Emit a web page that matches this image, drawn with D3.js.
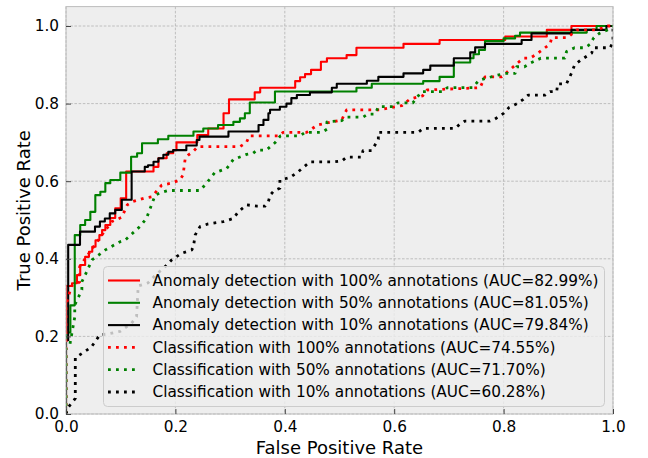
<!DOCTYPE html>
<html>
<head>
<meta charset="utf-8">
<script src="https://cdn.jsdelivr.net/npm/d3@7"></script>
<style>
body { margin: 0; background: #fff; }
text { font-family: "DejaVu Sans", sans-serif; fill: #000; }
</style>
</head>
<body>
<script>
//ROC curves, anomaly detection vs classification

//solid curves: [fpr, tpr] at the top of each rise (drawn as steps)
var anomaly100 = [[0,0],[0,0.33],[0.011,0.337],[0.020,0.358],[0.026,0.384],[0.035,0.405],[0.042,0.418],
    [0.048,0.431],[0.054,0.448],[0.061,0.461],[0.066,0.474],[0.072,0.487],[0.081,0.505],[0.090,0.530],
    [0.100,0.556],[0.110,0.625],[0.160,0.637],[0.169,0.659],[0.184,0.672],[0.196,0.680],[0.202,0.700],
    [0.240,0.719],[0.260,0.736],[0.288,0.775],[0.298,0.811],[0.345,0.829],[0.355,0.841],[0.419,0.858],
    [0.428,0.868],[0.437,0.876],[0.448,0.887],[0.466,0.908],[0.477,0.917],[0.513,0.925],[0.531,0.944],
    [0.617,0.954],[0.683,0.964],[0.803,0.973],[0.879,0.990],[0.924,1.0],[1.0,1.0]];

var anomaly50 = [[0,0],[0,0.21],[0.008,0.28],[0.016,0.461],[0.026,0.487],[0.035,0.500],[0.0445,0.521],
    [0.0536,0.564],[0.0628,0.573],[0.0719,0.595],[0.081,0.603],[0.0993,0.622],[0.119,0.663],[0.130,0.672],
    [0.139,0.698],[0.168,0.708],[0.187,0.717],[0.233,0.728],[0.251,0.736],[0.278,0.745],[0.306,0.753],
    [0.318,0.762],[0.327,0.775],[0.336,0.803],[0.382,0.831],[0.531,0.841],[0.559,0.851],[0.653,0.858],
    [0.683,0.869],[0.709,0.906],[0.739,0.917],[0.745,0.927],[0.755,0.938],[0.766,0.961],[0.800,0.968],
    [0.821,0.975],[0.830,0.983],[0.952,0.990],[0.970,1.0],[1.0,1.0]];

var anomaly10 = [[0,0],[0,0.19],[0.004,0.436],[0.0256,0.470],[0.053,0.483],[0.062,0.496],[0.071,0.504],
    [0.080,0.517],[0.090,0.526],[0.102,0.552],[0.120,0.625],[0.144,0.637],[0.150,0.641],[0.160,0.650],
    [0.169,0.659],[0.178,0.668],[0.187,0.676],[0.196,0.680],[0.220,0.692],[0.239,0.706],[0.244,0.715],
    [0.297,0.728],[0.352,0.745],[0.361,0.758],[0.370,0.775],[0.373,0.784],[0.391,0.792],[0.403,0.800],
    [0.412,0.814],[0.422,0.822],[0.446,0.829],[0.486,0.841],[0.495,0.851],[0.550,0.859],[0.571,0.869],
    [0.617,0.878],[0.653,0.887],[0.666,0.898],[0.709,0.917],[0.739,0.932],[0.748,0.945],[0.766,0.954],
    [0.833,0.964],[0.851,0.981],[0.924,0.990],[0.988,1.0],[1.0,1.0]];

//dotted curves: [fpr, tpr] points joined straight
var class100 = [[0,0],[0,0.28],[0.01,0.33],[0.025,0.34],[0.025,0.38],[0.04,0.41],[0.055,0.44],[0.07,0.47],
    [0.084,0.496],[0.102,0.507],[0.112,0.539],[0.121,0.547],[0.142,0.556],[0.157,0.560],[0.175,0.590],
    [0.193,0.595],[0.208,0.603],[0.214,0.616],[0.218,0.659],[0.224,0.668],[0.232,0.676],[0.241,0.689],
    [0.318,0.689],[0.33,0.70],[0.335,0.717],[0.39,0.717],[0.397,0.726],[0.44,0.726],[0.46,0.745],
    [0.504,0.758],[0.513,0.784],[0.574,0.784],[0.614,0.795],[0.629,0.812],[0.652,0.820],[0.66,0.835],
    [0.757,0.841],[0.766,0.869],[0.797,0.869],[0.812,0.888],[0.836,0.917],[0.848,0.917],[0.860,0.927],
    [0.885,0.954],[0.888,0.970],[0.917,0.970],[0.934,0.99],[0.97,0.99],[0.99,1.0],[1,1]];

var class50 = [[0,0],[0,0.17],[0.007,0.178],[0.016,0.25],[0.016,0.281],[0.029,0.320],[0.029,0.341],
    [0.035,0.358],[0.0475,0.397],[0.06,0.41],[0.072,0.423],[0.099,0.444],[0.108,0.448],[0.135,0.483],
    [0.147,0.504],[0.154,0.530],[0.163,0.564],[0.172,0.570],[0.187,0.576],[0.245,0.576],[0.257,0.595],
    [0.272,0.622],[0.294,0.633],[0.306,0.656],[0.33,0.669],[0.342,0.672],[0.349,0.680],[0.366,0.680],
    [0.382,0.699],[0.392,0.717],[0.428,0.717],[0.437,0.726],[0.468,0.726],[0.477,0.734],[0.477,0.753],
    [0.504,0.756],[0.513,0.765],[0.543,0.765],[0.552,0.773],[0.565,0.773],[0.571,0.792],[0.598,0.792],
    [0.607,0.802],[0.634,0.802],[0.644,0.820],[0.65,0.831],[0.689,0.831],[0.697,0.841],[0.743,0.841],
    [0.755,0.86],[0.78,0.87],[0.803,0.878],[0.821,0.878],[0.824,0.895],[0.838,0.895],[0.85,0.905],
    [0.868,0.917],[0.912,0.917],[0.915,0.934],[0.93,0.944],[0.949,0.944],[0.958,0.953],[0.965,0.97],
    [0.975,0.981],[0.99,0.99],[1,1]];

var class10 = [[0,0],[0.003,0.015],[0.017,0.04],[0.017,0.145],[0.03,0.157],[0.046,0.172],[0.062,0.204],
    [0.075,0.206],[0.099,0.213],[0.12,0.234],[0.129,0.251],[0.132,0.33],[0.15,0.338],[0.165,0.36],
    [0.178,0.375],[0.193,0.397],[0.211,0.414],[0.230,0.423],[0.233,0.431],[0.236,0.461],[0.245,0.483],
    [0.260,0.490],[0.288,0.496],[0.306,0.504],[0.315,0.521],[0.330,0.539],[0.349,0.536],[0.364,0.536],
    [0.370,0.547],[0.373,0.564],[0.38,0.575],[0.391,0.582],[0.391,0.603],[0.41,0.61],[0.425,0.625],
    [0.446,0.650],[0.49,0.650],[0.504,0.652],[0.513,0.662],[0.54,0.662],[0.543,0.679],[0.559,0.679],
    [0.571,0.708],[0.571,0.726],[0.644,0.726],[0.653,0.736],[0.711,0.736],[0.720,0.747],[0.729,0.755],
    [0.775,0.755],[0.784,0.760],[0.80,0.775],[0.81,0.79],[0.825,0.80],[0.836,0.811],[0.845,0.822],
    [0.876,0.822],[0.885,0.831],[0.897,0.831],[0.899,0.851],[0.915,0.851],[0.924,0.878],[0.93,0.90],
    [0.943,0.914],[0.961,0.930],[0.964,0.944],[0.995,0.944],[1.0,0.96],[1.0,1.0]];

var labels = ["Anomaly detection with 100% annotations (AUC=82.99%)",
    "Anomaly detection with 50% annotations (AUC=81.05%)",
    "Anomaly detection with 10% annotations (AUC=79.84%)",
    "Classification with 100% annotations (AUC=74.55%)",
    "Classification with 50% annotations (AUC=71.70%)",
    "Classification with 10% annotations (AUC=60.28%)"];

var tickValues = [0, 0.2, 0.4, 0.6, 0.8, 1.0];

//styles
var series = [
    {data: anomaly100, color: "#ff0000", dotted: false},
    {data: anomaly50, color: "#008000", dotted: false},
    {data: anomaly10, color: "#000000", dotted: false},
    {data: class100, color: "#ff0000", dotted: true},
    {data: class50, color: "#008000", dotted: true},
    {data: class10, color: "#000000", dotted: true}
];

var w = 648;
var h = 458;
//plot box (note: "top" is taken by window.top)
var pLeft = 66, pRight = 613, pTop = 6.6, pBottom = 414;

var svg = d3.select("body")
    .append("svg")
    .attr("width", w)
    .attr("height", h);

var x = d3.scaleLinear().domain([0, 1]).range([pLeft, pRight]);
var y = d3.scaleLinear().domain([0, 1.05]).range([pBottom, pTop]);

//axes background
svg.append("rect")
    .attr("x", pLeft).attr("y", pTop)
    .attr("width", pRight - pLeft).attr("height", pBottom - pTop)
    .attr("fill", "#eeeeee");

svg.append("clipPath").attr("id", "plotClip")
    .append("rect")
    .attr("x", pLeft).attr("y", pTop)
    .attr("width", pRight - pLeft).attr("height", pBottom - pTop);

//grid
var grid = svg.append("g").attr("stroke", "#b2b2b2").attr("stroke-width", 0.8)
    .attr("stroke-dasharray", "2.6,1.6");
grid.selectAll(".gx").data(tickValues).enter().append("line")
    .attr("x1", function(d) { return x(d); }).attr("x2", function(d) { return x(d); })
    .attr("y1", pTop).attr("y2", pBottom);
grid.selectAll(".gy").data(tickValues).enter().append("line")
    .attr("y1", function(d) { return y(d); }).attr("y2", function(d) { return y(d); })
    .attr("x1", pLeft).attr("x2", pRight);

//curves
var stepLine = d3.line().x(function(d) { return x(d[0]); }).y(function(d) { return y(d[1]); })
    .curve(d3.curveStepAfter);
var straightLine = d3.line().x(function(d) { return x(d[0]); }).y(function(d) { return y(d[1]); });

var plot = svg.append("g").attr("clip-path", "url(#plotClip)");
series.forEach(function(s) {
    plot.append("path")
        .attr("d", s.dotted ? straightLine(s.data) : stepLine(s.data))
        .attr("fill", "none")
        .attr("stroke", s.color)
        .attr("stroke-width", s.dotted ? 2.8 : 2.1)
        .attr("stroke-dasharray", s.dotted ? "2.8,5.2" : null)
        .attr("stroke-linejoin", "round");
});

//spines
svg.append("rect")
    .attr("x", pLeft).attr("y", pTop)
    .attr("width", pRight - pLeft).attr("height", pBottom - pTop)
    .attr("fill", "none").attr("stroke", "#bcbcbc").attr("stroke-width", 1);

//ticks, inward
var fmt = d3.format(".1f");
var xAxis = svg.append("g").attr("transform", "translate(0," + pBottom + ")")
    .call(d3.axisBottom(x).tickValues(tickValues).tickFormat(fmt).tickSize(-5).tickPadding(7));
var yAxis = svg.append("g").attr("transform", "translate(" + pLeft + ",0)")
    .call(d3.axisLeft(y).tickValues(tickValues).tickFormat(fmt).tickSize(-5).tickPadding(7));
[xAxis, yAxis].forEach(function(a) {
    a.select(".domain").remove();
    a.selectAll("line").attr("stroke", "#444").attr("stroke-width", 1);
    a.selectAll("text").attr("font-size", "15.3px").attr("font-family", "DejaVu Sans").attr("fill", "#000");
});

//axis labels
svg.append("text")
    .attr("x", (pLeft + pRight) / 2).attr("y", 454)
    .attr("text-anchor", "middle").attr("font-size", "18px")
    .text("False Positive Rate");
svg.append("text")
    .attr("transform", "translate(30," + ((pTop + pBottom) / 2) + ") rotate(-90)")
    .attr("text-anchor", "middle").attr("font-size", "18px")
    .text("True Positive Rate");

//legend
var legend = svg.append("g");
legend.append("rect")
    .attr("x", 103.5).attr("y", 266.5)
    .attr("width", 501).attr("height", 140)
    .attr("rx", 4)
    .attr("fill", "#eeeeee").attr("fill-opacity", 0.8)
    .attr("stroke", "#cccccc").attr("stroke-width", 1);

var rows = legend.selectAll(".row")
    .data(series)
    .enter()
    .append("g")
    .attr("transform", function(d, i) { return "translate(0," + (280.5 + i * 22.3) + ")"; });

rows.append("line")
    .attr("x1", 108).attr("x2", 140)
    .attr("stroke", function(d) { return d.color; })
    .attr("stroke-width", function(d) { return d.dotted ? 2.8 : 2.1; })
    .attr("stroke-dasharray", function(d) { return d.dotted ? "2.8,5.2" : null; });

rows.append("text")
    .attr("x", 152.5)
    .attr("dy", "0.35em")
    .attr("font-size", "15.3px")
    .text(function(d, i) { return labels[i]; });
</script>
</body>
</html>
